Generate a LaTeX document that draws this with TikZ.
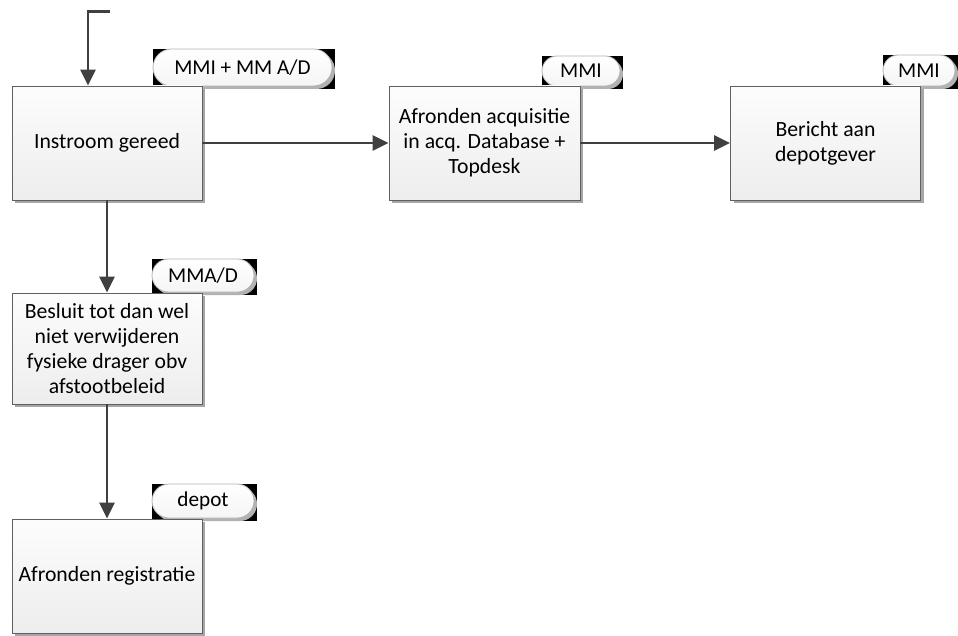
\documentclass[tikz,border=0pt]{standalone}
\usepackage{fontspec}
\setmainfont{Carlito}
\usetikzlibrary{arrows.meta,shadows,backgrounds,calc,shapes.misc}
\begin{document}
\begin{tikzpicture}[x=1pt,y=-1pt,
  procbox/.style={draw=gray!75!black, line width=0.8pt, top color=gray!2, bottom color=gray!14,
    minimum width=190pt, minimum height=114pt, align=center, inner sep=2pt,
    font=\fontsize{21.7}{25}\selectfont,
    general shadow={fill=gray!70, shadow xshift=3pt, shadow yshift=-3pt}},
  tagpill/.style={rounded rectangle, draw=gray!60, line width=0.8pt, top color=white, bottom color=gray!8,
    inner sep=0pt, font=\fontsize{21.2}{24}\selectfont,
    general shadow={fill=gray!60, shadow xshift=3pt, shadow yshift=-3pt}},
  flow/.style={draw=black!75, line width=2.6pt, -{Triangle[length=16pt,width=15pt]}}
]
\useasboundingbox (0,0) rectangle (958,636);

% tags
\node[tagpill, minimum width=179pt, minimum height=37pt] (p1) at (242.5,67.5) {MMI + MM A/D};
\node[tagpill, minimum width=78pt, minimum height=30pt] (p2) at (581,71) {MMI};
\node[tagpill, minimum width=72pt, minimum height=31pt] (p3) at (919,70.5) {MMI};
\node[tagpill, minimum width=102pt, minimum height=33pt] (p4) at (203,275.5) {MMA/D};
\node[tagpill, minimum width=102pt, minimum height=34pt] (p5) at (203,501) {depot};

\begin{scope}[on background layer]
  \foreach \p in {p1,p2,p3,p4,p5}{
    \fill[black] (\p.west |- \p.north) rectangle ($(\p.east |- \p.south)+(3,3)$);
  }
\end{scope}

% process boxes
\node[procbox] (b1) at (107,143) {Instroom gereed};
\node[procbox, minimum width=191pt] (b2) at (484.5,143) {Afronden acquisitie\\in acq. Database +\\Topdesk};
\node[procbox] (b3) at (825.5,143) {Bericht aan\\depotgever};
\node[procbox, minimum height=111pt] (b4) at (107,348.5) {Besluit tot dan wel\\niet verwijderen\\fysieke drager obv\\afstootbeleid};
\node[procbox] (b5) at (107,576) {Afronden registratie};

% connectors
\coordinate (src) at (110,11.5);
\coordinate (bend) at (88,11.5);
\draw[flow] (src) -- (bend) -- (bend |- b1.north);
\draw[flow] (b1) -- (b2);
\draw[flow] (b2) -- (b3);
\draw[flow] (b1) -- (b4);
\draw[flow] (b4) -- (b5);
\end{tikzpicture}
\end{document}
